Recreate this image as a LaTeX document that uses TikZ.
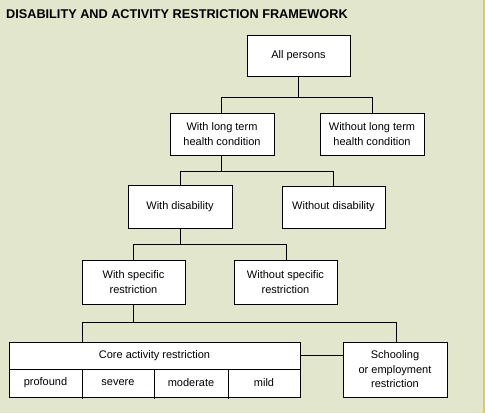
\documentclass[tikz,border=0pt]{standalone}
\usepackage{fontspec}
\setmainfont{Liberation Sans}
\definecolor{bg}{HTML}{E2E6CC}
\definecolor{edge}{HTML}{E3C46A}
\begin{document}
\begin{tikzpicture}[x=1pt,y=-1pt,
  box/.style={draw=black,fill=white,line width=1pt},
  lbl/.style={font=\fontsize{11}{14.5}\selectfont,align=center,inner sep=0pt},
  conn/.style={draw=black,line width=1pt}]
\fill[bg] (0,0) rectangle (485,413);
\useasboundingbox (0,0) rectangle (485,413);
\fill[edge] (483,0) rectangle (485,413);
\node[anchor=west,font=\bfseries\fontsize{12.7}{15}\selectfont,inner sep=0pt] (title) at (6,14.5) {DISABILITY AND ACTIVITY RESTRICTION FRAMEWORK};

% boxes
\draw[box] (247,35) rectangle (350,76);
\node[lbl] (all) at (298.5,55.5) {All persons};
\draw[box] (170,113) rectangle (274,155);
\node[lbl] (wlt) at (222,134) {With long term\\health condition};
\draw[box] (320,113) rectangle (424,155);
\node[lbl] (wolt) at (372,134) {Without long term\\health condition};
\draw[box] (128,185) rectangle (232,228);
\node[lbl] (wd) at (180,206.5) {With disability};
\draw[box] (282,186) rectangle (385,228);
\node[lbl] (wod) at (333.5,207) {Without disability};
\draw[box] (82,260) rectangle (185,304);
\node[lbl] (ws) at (133.5,282) {With specific\\restriction};
\draw[box] (234,260) rectangle (337,304);
\node[lbl] (wos) at (285.5,282) {Without specific\\restriction};
\draw[box] (9,342) rectangle (300,397);
\draw[conn] (9,369) -- (300,369);
\draw[conn] (82,369) -- (82,399) (154,369) -- (154,399) (228,369) -- (228,399);
\node[lbl] (core) at (154.5,355.5) {Core activity restriction};
\node[lbl] (prof) at (45.5,383) {profound};
\node[lbl] (sev) at (118,383) {severe};
\node[lbl] (mod) at (191,383) {moderate};
\node[lbl] (mild) at (264,383) {mild};
\draw[box] (343,342) rectangle (447,397);
\node[lbl] (school) at (395,369.5) {Schooling\\or employment\\restriction};

% connectors
\coordinate (s1) at (298.5,97);
\draw[conn] (298.5,76) -- (s1);
\draw[conn] (221,113) -- (221,97) -- (372,97) -- (372,113);
\draw[conn] (221,155) -- (221,171);
\draw[conn] (180,185) -- (180,171) -- (333,171) -- (333,186);
\draw[conn] (180,228) -- (180,244);
\draw[conn] (133,260) -- (133,244) -- (286,244) -- (286,260);
\draw[conn] (133,304) -- (133,322);
\draw[conn] (82,342) -- (82,322) -- (396,322) -- (396,342);
\draw[conn] (300,355) -- (343,355);
\end{tikzpicture}
\end{document}
